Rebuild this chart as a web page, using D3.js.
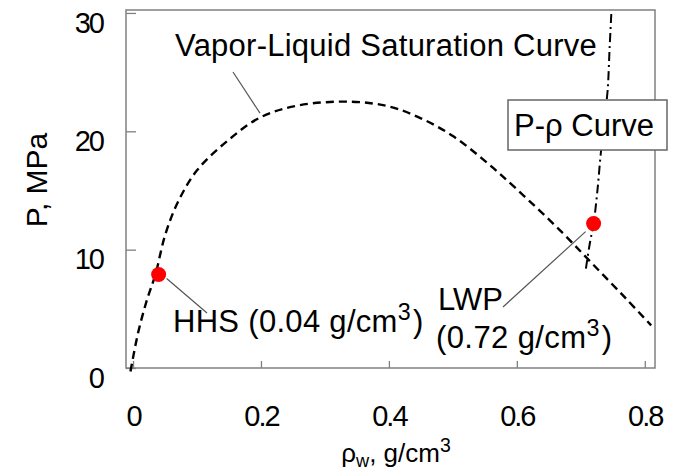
<!DOCTYPE html>
<html>
<head>
<meta charset="utf-8">
<script src="https://cdn.jsdelivr.net/npm/d3@7"></script>
<style>
  html, body { margin: 0; padding: 0; background: #fff; }
  svg { display: block; font-family: "Liberation Sans", Arial, Helvetica, sans-serif; }
</style>
</head>
<body>
<svg id="chart" width="673" height="476"></svg>
<script>
// Vapor-liquid saturation curve of water: density (g/cm3) and pressure (MPa)
const satRho = [-0.004, 0.008, 0.022, 0.035, 0.050, 0.070, 0.10, 0.15, 0.20, 0.26, 0.34, 0.40, 0.45, 0.50, 0.55, 0.60, 0.67, 0.72, 0.77, 0.81];
const satP   = [-0.3,   3.0,   5.8,   7.9,   11.2,  14.0,  16.7, 19.3, 21.2, 22.2, 22.5, 22.1, 21.1, 19.6, 17.5, 15.1, 11.5, 8.7,  5.9,  3.6];

// P-rho path
const prRho = [0.708, 0.714, 0.720, 0.726, 0.731, 0.737, 0.742, 0.745, 0.748];
const prP   = [8.4,   10.5,  12.2,  15.0,  18.0,  21.0,  23.5,  27.0,  30.25];

// Highlighted states
const pointNames = ["HHS", "LWP"];
const pointRho   = [0.04, 0.72];
const pointP     = [7.9, 12.2];

const xTicks = [0, 0.2, 0.4, 0.6, 0.8];
const xTickLabels = ["0", "0.2", "0.4", "0.6", "0.8"];
const yTicks = [0, 10, 20, 30];
const yTickLabels = ["0", "10", "20", "30"];

const svg = d3.select("#chart");
const box = { left: 126, right: 655, top: 10, bottom: 368 };

const x = d3.scaleLinear().domain([-0.011, 0.816]).range([box.left, box.right]);
const y = d3.scaleLinear().domain([0, 30.25]).range([box.bottom, box.top]);

const frameColor = "#808080";

// Axes with inward ticks
const xAxis = d3.axisBottom(x).tickValues(xTicks)
  .tickFormat((d, i) => xTickLabels[i]).tickSizeInner(-7).tickSizeOuter(0).tickPadding(37);
const gx = svg.append("g").attr("transform", `translate(0,${box.bottom})`).call(xAxis);
gx.select(".domain").remove();
gx.selectAll(".tick line").attr("stroke", frameColor).attr("stroke-width", 1.3);
gx.selectAll(".tick text").attr("font-size", 29).attr("letter-spacing", "-2px")
  .attr("fill", "#000").attr("font-family", "Liberation Sans, Arial, sans-serif");

const yAxis = d3.axisLeft(y).tickValues(yTicks)
  .tickFormat((d, i) => yTickLabels[i]).tickSizeInner(-10).tickSizeOuter(0).tickPadding(23);
const gy = svg.append("g").attr("transform", `translate(${box.left},0)`).call(yAxis);
gy.select(".domain").remove();
gy.selectAll(".tick line").attr("stroke", frameColor).attr("stroke-width", 1.3);
gy.selectAll(".tick text").attr("font-size", 29).attr("letter-spacing", "-2px")
  .attr("y", 10).attr("fill", "#000").attr("font-family", "Liberation Sans, Arial, sans-serif");

// Frame around the plotting area
svg.append("rect")
  .attr("x", box.left).attr("y", box.top)
  .attr("width", box.right - box.left).attr("height", box.bottom - box.top)
  .attr("fill", "none").attr("stroke", frameColor).attr("stroke-width", 1.5);

// Saturation curve (dashed)
svg.append("path")
  .datum(satRho.map((r, i) => [r, satP[i]]))
  .attr("d", d3.line().x(d => x(d[0])).y(d => y(d[1])).curve(d3.curveCatmullRom))
  .attr("fill", "none").attr("stroke", "#000").attr("stroke-width", 2.4)
  .attr("stroke-dasharray", "8,5");

// P-rho curve (dash-dot)
svg.append("path")
  .datum(prRho.map((r, i) => [r, prP[i]]))
  .attr("d", d3.line().x(d => x(d[0])).y(d => y(d[1])).curve(d3.curveCatmullRom))
  .attr("fill", "none").attr("stroke", "#000").attr("stroke-width", 2)
  .attr("stroke-dasharray", "9,4,2,4");

const leader = "#555";

// Leader for the saturation-curve label
svg.append("line")
  .attr("x1", 233).attr("y1", 72)
  .attr("x2", x(0.2) - 1).attr("y2", y(21.2) - 4)
  .attr("stroke", leader).attr("stroke-width", 1.2);

svg.append("text").attr("x", 175).attr("y", 56).attr("font-size", 31)
  .attr("letter-spacing", "0.25px").attr("fill", "#000").text("Vapor-Liquid Saturation Curve");

// Box label for the P-rho curve
svg.append("rect").attr("x", 508).attr("y", 100).attr("width", 159).attr("height", 50)
  .attr("fill", "#fff").attr("stroke", "#666").attr("stroke-width", 1.5);
svg.append("text").attr("x", 514).attr("y", 136).attr("font-size", 31)
  .attr("fill", "#000").text("P-ρ Curve");

// Leaders from the labels to the highlighted states
const hx = x(pointRho[0]), hy = y(pointP[0]);
svg.append("line").attr("x1", hx + 8).attr("y1", hy + 4).attr("x2", 207).attr("y2", 313)
  .attr("stroke", leader).attr("stroke-width", 1.2);
const lx = x(pointRho[1]), ly = y(pointP[1]);
svg.append("line").attr("x1", lx - 8).attr("y1", ly + 8).attr("x2", 503).attr("y2", 307)
  .attr("stroke", leader).attr("stroke-width", 1.2);

// Highlighted states
svg.selectAll("circle.state")
  .data(pointRho.map((r, i) => ({ name: pointNames[i], rho: r, p: pointP[i] })))
  .join("circle").attr("class", "state")
  .attr("cx", d => x(d.rho)).attr("cy", d => y(d.p)).attr("r", 7.5)
  .attr("fill", "#ff0000");

// Labels with superscript units
function unitText(sel, pre, post) {
  sel.append("tspan").text(pre);
  sel.append("tspan").attr("font-size", "0.75em").attr("dy", "-0.5em").text("3");
  sel.append("tspan").attr("dx", "2").attr("dy", "0.375em").text(post);
}
const hhs = svg.append("text").attr("x", 173).attr("y", 332).attr("font-size", 31)
  .attr("letter-spacing", "0.3px").attr("fill", "#000");
unitText(hhs, `HHS (${pointRho[0]} g/cm`, ")");

svg.append("text").attr("x", 438).attr("y", 310).attr("font-size", 31).attr("fill", "#000").text("LWP");
const lwp = svg.append("text").attr("x", 436).attr("y", 348).attr("font-size", 31)
  .attr("letter-spacing", "0.4px").attr("fill", "#000");
unitText(lwp, `(${pointRho[1]} g/cm`, ")");

// Axis titles
const xt = svg.append("text").attr("x", 396).attr("y", 462).attr("text-anchor", "middle")
  .attr("font-size", 26).attr("fill", "#000");
xt.append("tspan").text("ρ");
xt.append("tspan").attr("font-size", "0.7em").attr("dy", "0.25em").text("w");
xt.append("tspan").attr("dy", "-0.175em").text(", g/cm");
xt.append("tspan").attr("font-size", "0.75em").attr("dy", "-0.5em").text("3");

svg.append("text")
  .attr("transform", "translate(47,180) rotate(-90)")
  .attr("text-anchor", "middle").attr("font-size", 30).attr("fill", "#000")
  .text("P, MPa");
</script>
</body>
</html>
